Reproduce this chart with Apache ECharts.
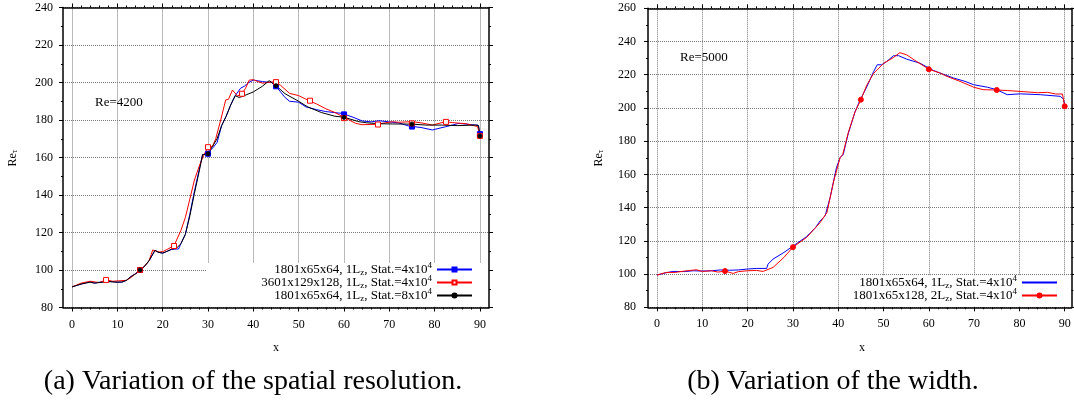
<!DOCTYPE html>
<html>
<head>
<meta charset="utf-8">
<script src="https://cdn.jsdelivr.net/npm/echarts@6.0.0/dist/echarts.min.js"></script>
<style>
  html, body { margin: 0; padding: 0; background: #fff; }
  #chart { width: 1074px; height: 408px; }
</style>
</head>
<body>
<div id="chart"></div>
<script>
// ---- data ----
// (a) Re=4200, spatial resolution
const aBlueX = [0,2,3.8,5,6,8,10,11,12,13,14,15,16,17,18.3,19,20,21,22,23,23.5,24,25,26,27,28,28.8,29.5,30,31,32,33,34,35,36,37.2,38,39,40,42,44,45,46,47,48,50,51.6,54,56,59.6,62,64,66,67.7,70,72,74.3,77,79.5,82.4,85.4,89,89.6,90];
const aBlueY = [91,92.5,93.7,93,93.5,94,93.5,93.5,94.5,96.5,98,99.5,102,105,110.5,109.5,109,110,111,111.2,111.2,114,119,130,142,153,161.5,162,162.5,165,168,177,182,188,193,197,198,200,201.3,200.5,200,198,195,192,190,189.5,187,185.5,184.5,183.5,181.5,179.5,179,179.6,179,178.5,176.8,176,174.7,176.4,178.2,177.3,177.3,172.5];
const aRedX = [0,2,4,6,7.5,9,10.8,12,13,14,15,16,17,17.8,19.2,20,21,22.5,24,25,26,27,28,29,30,31,31.7,32.8,33.9,34.5,35.4,36.5,37.5,38.3,39.1,40,41,42.1,43,44.6,45,46,48,50,52.3,54,56,58,60,62.6,64,67,70.7,72,75.1,77,79.5,82.4,84,87,89.5,90];
const aRedY = [91,93,94,93.3,94.7,94,94.3,94.5,96,98,100,102,105,110.7,109.6,109.8,111,113,121,128,138,148,155,161,165.4,166,170,180,190.7,191,196,192.8,194,197,201.3,201.5,200.5,199.6,200,200.4,200,198.5,194.2,193,190.3,188.5,186,184,181.4,178.2,177.5,177.7,179.1,178.8,179.1,178.5,177.3,179.1,178.6,178,176.5,171.5];
const aBlackX = [0,2,4,5,6,8,10,11,12,13,14,15,16,17,18.3,19,20,21,22,23,24,25,26,27,28,28.8,29.5,30,31,32,33,34,35,36,36.9,38,40,42,43.5,45,47,50,52,55,58,60,63.3,65,68,70.7,75,78,81.7,85,89,89.7,90];
const aBlackY = [91,92.5,93.5,93,93.3,93.8,93.5,93.6,94.5,96.5,98,100,102,105,110.5,109.5,109,110,111.2,111.5,114,119,129,141,152,161.6,161.5,162,166,170,177,182,188,193,192,193,195,198,201,198.3,194,190,187,184,182,181.5,179.1,178.5,178,177.9,177.8,177.3,177.3,177,177.3,177,171.5];
const aBlueMarkX = [15,30,45,60,75,90];
const aBlueMarkY = [100,162,198,183,176.5,172.5];
const aRedMarkX = [7.5,15,22.5,30,37.5,45,52.5,60,67.5,75,82.5,90];
const aRedMarkY = [94.7,100,112.8,165.5,194,200.2,190.3,181,177.6,178.2,179,171.5];
const aBlackMarkX = [15,30,45,60,75,90];
const aBlackMarkY = [100,162,198.3,181.4,177.8,171.5];

// (b) Re=5000, width
const bBlueX = [0,2,3.5,6,8,10,12,14,16,18,19.8,22,24.2,24.5,25.6,28,30.1,33,35,36,37.1,38.2,39.6,40.4,41.1,42.2,43.7,44.8,46.3,47.8,48.6,49.6,50.7,52.2,53.3,55.1,58,61,63,65.5,68,69.9,72.9,75,77.3,80.2,84.6,89,89.7,90];
const bBlueY = [99.4,100.8,101.6,101.5,102,101.8,102,102.5,102.3,102.5,103,103.4,103.4,106,109,113,117,122.5,128,132,135,146,164,170,172,184.4,197.6,204.6,212.7,221.8,226,226,228,231.4,231.5,229.4,227,222.6,220.5,218,216,214,212.5,211,208,208.5,208,207,205.4,202];
const bRedX = [0,2,4,6,8.7,10,12,13.5,15,16.8,18,20,22,23.4,25.6,28,30,33,35,36,37.5,39,40.4,41,42.2,43.7,45,46.3,47.8,50,52.2,53.6,55.1,57.3,60,62.5,64,66.9,69.9,72,75,77.3,81,84,86.2,88,89.5,90];
const bRedY = [99.4,101,101,101.8,102.6,101.6,102,101.2,101.8,100.4,101.5,102,102.2,101.6,104,110,116.2,122,128,131,137,156,170,172,185,197.6,205,213.7,220.8,226.8,230.4,233.3,232,228,223.3,221,219,216,212.5,211,210.8,210.5,209.8,209.2,209.4,208.4,208.4,201];
const bRedMarkX = [15,30,45,60,75,90];
const bRedMarkY = [101.8,116.2,205,223.3,210.8,201];

const xTicks = [0,10,20,30,40,50,60,70,80,90];
const xMinorTicks = [2,4,6,8,12,14,16,18,22,24,26,28,32,34,36,38,42,44,46,48,52,54,56,58,62,64,66,68,72,74,76,78,82,84,86,88];

const legendA = ['a: 1801x65x64, 1Lz, Stat.=4x10^4', 'a: 3601x129x128, 1Lz, Stat.=4x10^4', 'a: 1801x65x64, 1Lz, Stat.=8x10^4'];
const legendB = ['b: 1801x65x64, 1Lz, Stat.=4x10^4', 'b: 1801x65x128, 2Lz, Stat.=4x10^4'];
const legendText = {
  'a: 1801x65x64, 1Lz, Stat.=4x10^4': '1801x65x64, 1L{sub|z}, Stat.=4x10{sup|4}',
  'a: 3601x129x128, 1Lz, Stat.=4x10^4': '3601x129x128, 1L{sub|z}, Stat.=4x10{sup|4}',
  'a: 1801x65x64, 1Lz, Stat.=8x10^4': '1801x65x64, 1L{sub|z}, Stat.=8x10{sup|4}',
  'b: 1801x65x64, 1Lz, Stat.=4x10^4': '1801x65x64, 1L{sub|z}, Stat.=4x10{sup|4}',
  'b: 1801x65x128, 2Lz, Stat.=4x10^4': '1801x65x128, 2L{sub|z}, Stat.=4x10{sup|4}'
};

// ---- helpers ----
const FONT = 'Liberation Serif';
const pairs = (xs, ys) => xs.map((x, i) => [x, ys[i]]);

function xAxes(gi, max) {
  const base = { gridIndex: gi, type: 'value', min: -2, max: max, axisLabel: { show: false }, splitLine: { show: false } };
  return [
    Object.assign({}, base, {
      position: 'bottom',
      axisLine: { show: true, onZero: false, lineStyle: { color: '#000', width: 1.5 } },
      axisTick: { show: true, length: 4, customValues: xTicks, lineStyle: { color: '#000' } },
      axisLabel: { show: true, customValues: xTicks, margin: 11, color: '#000', fontFamily: FONT, fontSize: 12 },
      splitLine: { show: true, lineStyle: { color: '#777', type: 'dotted', width: 1 } }
    }),
    Object.assign({}, base, {
      position: 'bottom',
      axisLine: { show: false, onZero: false },
      axisTick: { show: true, length: 2, customValues: xMinorTicks, lineStyle: { color: '#000' } }
    }),
    Object.assign({}, base, {
      position: 'top',
      axisLine: { show: true, onZero: false, lineStyle: { color: '#000', width: 1.5 } },
      axisTick: { show: true, length: 4, customValues: xTicks, lineStyle: { color: '#000' } }
    }),
    Object.assign({}, base, {
      position: 'top',
      axisLine: { show: false, onZero: false },
      axisTick: { show: true, length: 2, customValues: xMinorTicks, lineStyle: { color: '#000' } }
    })
  ];
}

function yAxes(gi, max, margin) {
  const base = { gridIndex: gi, type: 'value', min: 80, max: max, interval: 20 };
  return [
    Object.assign({}, base, {
      position: 'left',
      axisLine: { show: true, onZero: false, lineStyle: { color: '#000', width: 1.5 } },
      axisTick: { show: true, length: 4, lineStyle: { color: '#000' } },
      minorTick: { show: true, splitNumber: 2, length: 2, lineStyle: { color: '#000' } },
      axisLabel: { margin: margin, color: '#000', fontFamily: FONT, fontSize: 12 },
      splitLine: { show: true, lineStyle: { color: '#777', type: 'dotted', width: 1 } }
    }),
    Object.assign({}, base, {
      position: 'right',
      axisLine: { show: true, onZero: false, lineStyle: { color: '#000', width: 1.5 } },
      axisTick: { show: true, length: 4, lineStyle: { color: '#000' } },
      minorTick: { show: true, splitNumber: 2, length: 2, lineStyle: { color: '#000' } },
      axisLabel: { show: false },
      splitLine: { show: false }
    })
  ];
}

function curve(name, xs, ys, xi, yi, color, symbol, fill) {
  return {
    name: name, type: 'line', xAxisIndex: xi, yAxisIndex: yi,
    data: pairs(xs, ys), showSymbol: false, symbol: symbol, symbolSize: 5,
    lineStyle: { color: color, width: 1 },
    itemStyle: { color: fill, borderColor: color, borderWidth: 1 },
    emphasis: { disabled: true }, z: 3
  };
}
function marks(name, xs, ys, xi, yi, color, symbol, fill, size) {
  return {
    name: name, type: 'scatter', xAxisIndex: xi, yAxisIndex: yi,
    data: pairs(xs, ys), symbol: symbol, symbolSize: size,
    itemStyle: { color: fill, borderColor: color, borderWidth: 1, opacity: 1 },
    emphasis: { disabled: true }, z: 4
  };
}

const rich = {
  sub: { fontFamily: FONT, fontSize: 9, lineHeight: 9, verticalAlign: 'bottom', color: '#000' },
  sup: { fontFamily: FONT, fontSize: 9, lineHeight: 9, verticalAlign: 'top', color: '#000' }
};
function legendCfg(names, right, top) {
  return {
    data: names, orient: 'vertical', align: 'right', right: right, top: top,
    itemWidth: 35, itemHeight: 5, itemGap: -3, padding: 0,
    formatter: (n) => legendText[n],
    textStyle: { fontFamily: FONT, fontSize: 13, color: '#000', width: 195, align: 'right', lineHeight: 16, rich: rich },
    selectedMode: false
  };
}

const chart = echarts.init(document.getElementById('chart'));
const legendBData = [
  { name: legendB[0], itemStyle: { color: 'rgba(0,0,0,0)', borderColor: 'rgba(0,0,0,0)', borderWidth: 0 } },
  { name: legendB[1] }
];
const option = {
  animation: false,
  backgroundColor: '#fff',
  grid: [
    { left: 63, top: 7.5, width: 426, height: 300 },
    { left: 648, top: 8.3, width: 423.5, height: 299 }
  ],
  xAxis: xAxes(0, 92).concat(xAxes(1, 91.5)),
  yAxis: yAxes(0, 240, 10).concat(yAxes(1, 260, 12)),
  legend: [legendCfg(legendA, 601, 261.5), Object.assign(legendCfg(legendB, 16, 274.5), { data: legendBData })],
  series: [
    curve(legendA[0], aBlueX, aBlueY, 0, 0, '#0000ff', 'rect', '#0000ff'),
    curve(legendA[1], aRedX, aRedY, 0, 0, '#ff0000', 'rect', '#ffffff'),
    curve(legendA[2], aBlackX, aBlackY, 0, 0, '#000000', 'circle', '#000000'),
    marks(legendA[0], aBlueMarkX, aBlueMarkY, 0, 0, '#0000ff', 'rect', '#0000ff', 5),
    marks(legendA[1], aRedMarkX, aRedMarkY, 0, 0, '#ff0000', 'rect', '#ffffff', 5),
    marks(legendA[2], aBlackMarkX, aBlackMarkY, 0, 0, '#000000', 'circle', '#000000', 4),
    curve(legendB[0], bBlueX, bBlueY, 4, 2, '#0000ff', 'none', '#0000ff'),
    curve(legendB[1], bRedX, bRedY, 4, 2, '#ff0000', 'circle', '#ff0000'),
    marks(legendB[1], bRedMarkX, bRedMarkY, 4, 2, '#ff0000', 'circle', '#ff0000', 5)
  ],
  graphic: [
    // opaque key boxes (hide the grid behind the keys)
    { type: 'rect', z: 1, shape: { x: 207, y: 263, width: 281, height: 43.5 }, style: { fill: '#fff' } },
    { type: 'rect', z: 1, shape: { x: 850, y: 275.5, width: 220, height: 31 }, style: { fill: '#fff' } },
    { type: 'text', z: 5, x: 95, y: 103, style: { text: 'Re=4200', fontFamily: FONT, fontSize: 13, fill: '#000', verticalAlign: 'middle' } },
    { type: 'text', z: 5, x: 680, y: 58, style: { text: 'Re=5000', fontFamily: FONT, fontSize: 13, fill: '#000', verticalAlign: 'middle' } },
    { type: 'text', z: 5, x: 13, y: 158, rotation: Math.PI / 2, style: { text: 'Re{s|τ}', fontFamily: FONT, fontSize: 12, fill: '#000', align: 'center', verticalAlign: 'middle', rich: { s: { fontFamily: FONT, fontSize: 9, verticalAlign: 'bottom', lineHeight: 8 } } } },
    { type: 'text', z: 5, x: 599, y: 158, rotation: Math.PI / 2, style: { text: 'Re{s|τ}', fontFamily: FONT, fontSize: 12, fill: '#000', align: 'center', verticalAlign: 'middle', rich: { s: { fontFamily: FONT, fontSize: 9, verticalAlign: 'bottom', lineHeight: 8 } } } },
    { type: 'text', z: 5, x: 276, y: 348, style: { text: 'x', fontFamily: FONT, fontSize: 12, fill: '#000', align: 'center', verticalAlign: 'middle' } },
    { type: 'text', z: 5, x: 862, y: 348, style: { text: 'x', fontFamily: FONT, fontSize: 12, fill: '#000', align: 'center', verticalAlign: 'middle' } },
    { type: 'text', z: 5, x: 253, y: 382, style: { text: '(a) Variation of the spatial resolution.', fontFamily: FONT, fontSize: 28, fill: '#000', align: 'center', verticalAlign: 'middle' } },
    { type: 'text', z: 5, x: 833, y: 382, style: { text: '(b) Variation of the width.', fontFamily: FONT, fontSize: 28, fill: '#000', align: 'center', verticalAlign: 'middle' } }
  ]
};
chart.setOption(option);
</script>
</body>
</html>
